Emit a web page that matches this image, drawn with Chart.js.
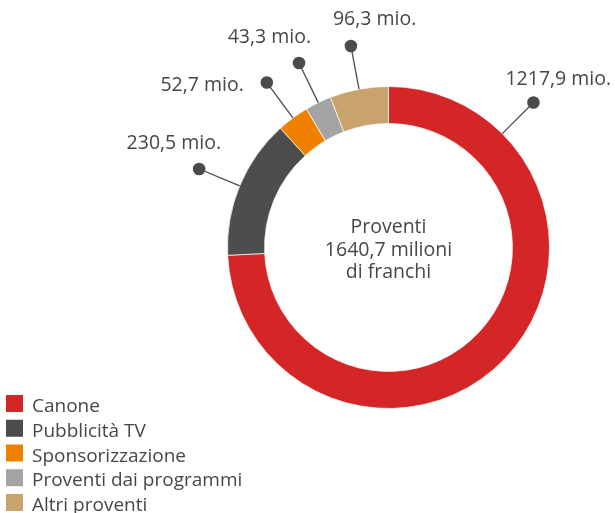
<!DOCTYPE html>
<html>
<head>
<meta charset="utf-8">
<script src="https://cdn.jsdelivr.net/npm/chart.js@4/dist/chart.umd.min.js"></script>
<style>
  html, body { margin: 0; padding: 0; background: #fff; }
  #wrap { width: 615px; height: 513px; }
</style>
</head>
<body>
<div id="wrap"><canvas id="grafico" width="615" height="513"></canvas></div>
<script>
// Dati (milioni di franchi)
const categorie = ['Canone', 'Pubblicità TV', 'Sponsorizzazione', 'Proventi dai programmi', 'Altri proventi'];
const valori = [1217.9, 230.5, 52.7, 43.3, 96.3];
const etichette = ['1217,9 mio.', '230,5 mio.', '52,7 mio.', '43,3 mio.', '96,3 mio.'];
const titoloCentro = ['Proventi', '1640,7 milioni', 'di franchi'];
const colori = ['#d42527', '#4d4d4b', '#f08000', '#a3a4a3', '#c8a36b'];

const coloreTesto = '#474746';
const font = '"Open Sans", sans-serif';

// posizione delle etichette rispetto al punto: [dx, dy, allineamento]
const posEtichette = [
  [-28, -18, 'left'],
  [22, -20, 'right'],
  [-23, 8, 'right'],
  [12, -20, 'right'],
  [-18, -21, 'left']
];

// Plugin per etichette con linee, testo centrale e legenda
const pluginEtichette = {
  id: 'etichette',
  afterDraw(chart) {
    const ctx = chart.ctx;
    const archi = chart.getDatasetMeta(0).data;
    ctx.save();

    archi.forEach((arco, i) => {
      let angolo = (arco.startAngle + arco.endAngle) / 2;
      if (i === 0) angolo = -Math.PI / 4; // il canone va in alto a destra
      const r0 = arco.outerRadius;
      const r1 = arco.outerRadius + 44;
      const x0 = arco.x + Math.cos(angolo) * r0;
      const y0 = arco.y + Math.sin(angolo) * r0;
      const x1 = arco.x + Math.cos(angolo) * r1;
      const y1 = arco.y + Math.sin(angolo) * r1;

      ctx.strokeStyle = '#4b4b4a';
      ctx.lineWidth = 1.3;
      ctx.beginPath();
      ctx.moveTo(x0, y0);
      ctx.lineTo(x1, y1);
      ctx.stroke();

      ctx.fillStyle = '#4b4b4a';
      ctx.beginPath();
      ctx.arc(x1, y1, 6.3, 0, Math.PI * 2);
      ctx.fill();

      const p = posEtichette[i];
      ctx.font = '19.5px ' + font;
      ctx.fillStyle = coloreTesto;
      ctx.textAlign = p[2];
      ctx.textBaseline = 'alphabetic';
      ctx.fillText(etichette[i], x1 + p[0], y1 + p[1]);
    });

    // Testo al centro
    const cx = archi[0].x, cy = archi[0].y;
    ctx.font = '19.5px ' + font;
    ctx.fillStyle = coloreTesto;
    ctx.textAlign = 'center';
    ctx.textBaseline = 'alphabetic';
    titoloCentro.forEach((riga, i) => {
      ctx.fillText(riga, cx, cy - 14.5 + i * 22.5);
    });

    // Legenda
    ctx.textAlign = 'left';
    categorie.forEach((nome, i) => {
      const y = 395 + i * 24.75;
      ctx.fillStyle = colori[i];
      ctx.fillRect(6, y, 17, 17);
      ctx.fillStyle = coloreTesto;
      ctx.font = '19px ' + font;
      ctx.fillText(nome, 32, y + 17);
    });

    ctx.restore();
  }
};

const ctxGrafico = document.getElementById('grafico').getContext('2d');
const grafico = new Chart(ctxGrafico, {
  type: 'doughnut',
  data: {
    labels: categorie,
    datasets: [{
      data: valori,
      backgroundColor: colori,
      borderColor: 'rgba(255,255,255,0.7)',
      borderWidth: 1,
      hoverOffset: 0
    }]
  },
  options: {
    responsive: false,
    devicePixelRatio: 1,
    animation: false,
    cutout: '77%',
    layout: {
      padding: { left: 227, right: 65, top: 86, bottom: 104 }
    },
    plugins: {
      legend: { display: false },
      tooltip: { enabled: false }
    },
    events: []
  },
  plugins: [pluginEtichette]
});
</script>
</body>
</html>
